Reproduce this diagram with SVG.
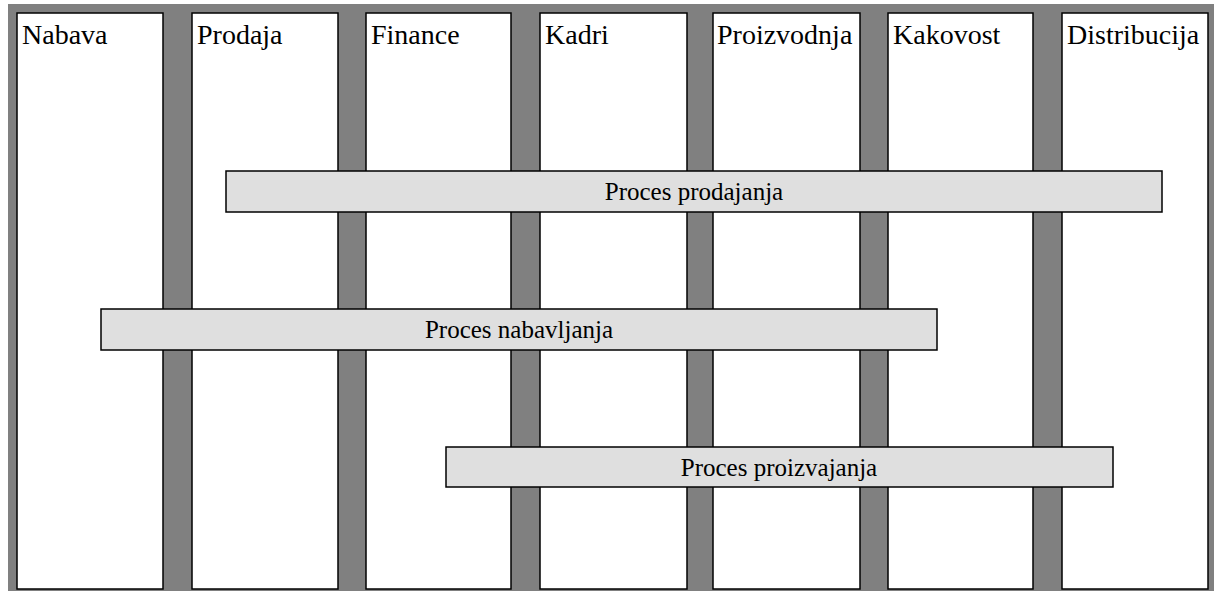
<svg xmlns="http://www.w3.org/2000/svg" width="1214" height="591" viewBox="0 0 1214 591">
  <style>
    .lane { fill: #ffffff; stroke: #000000; stroke-width: 1.5; }
    .lane-label { font-size: 28px; fill: #000000; }
    .bar { fill: #dfdfdf; stroke: #000000; stroke-width: 1.5; }
    .bar-label { font-size: 25px; fill: #000000; text-anchor: middle; }
  </style>
  <rect width="1214" height="591" fill="#ffffff"/>
  <!-- grey backdrop behind the lanes -->
  <rect x="8" y="4" width="1206" height="587" fill="#808080"/>

  <g font-family="'Liberation Serif', 'DejaVu Serif', serif">
    <g id="lane-nabava">
      <rect class="lane" x="17" y="13" width="146" height="576"/>
      <text class="lane-label" x="22" y="44">Nabava</text>
    </g>
    <g id="lane-prodaja">
      <rect class="lane" x="192" y="13" width="146" height="576"/>
      <text class="lane-label" x="197" y="44">Prodaja</text>
    </g>
    <g id="lane-finance">
      <rect class="lane" x="366" y="13" width="145" height="576"/>
      <text class="lane-label" x="371" y="44">Finance</text>
    </g>
    <g id="lane-kadri">
      <rect class="lane" x="540" y="13" width="147" height="576"/>
      <text class="lane-label" x="545" y="44">Kadri</text>
    </g>
    <g id="lane-proizvodnja">
      <rect class="lane" x="713" y="13" width="147" height="576"/>
      <text class="lane-label" x="717" y="44">Proizvodnja</text>
    </g>
    <g id="lane-kakovost">
      <rect class="lane" x="888" y="13" width="145" height="576"/>
      <text class="lane-label" x="893" y="44">Kakovost</text>
    </g>
    <g id="lane-distribucija">
      <rect class="lane" x="1062" y="13" width="146" height="576"/>
      <text class="lane-label" x="1067" y="44">Distribucija</text>
    </g>

    <g id="proces-prodajanja">
      <rect class="bar" x="226" y="171" width="936" height="41"/>
      <text class="bar-label" x="694" y="200">Proces prodajanja</text>
    </g>
    <g id="proces-nabavljanja">
      <rect class="bar" x="101" y="309" width="836" height="41"/>
      <text class="bar-label" x="519" y="338">Proces nabavljanja</text>
    </g>
    <g id="proces-proizvajanja">
      <rect class="bar" x="446" y="447" width="667" height="40"/>
      <text class="bar-label" x="779" y="476">Proces proizvajanja</text>
    </g>
  </g>

  <g id="connectors"></g>
</svg>
